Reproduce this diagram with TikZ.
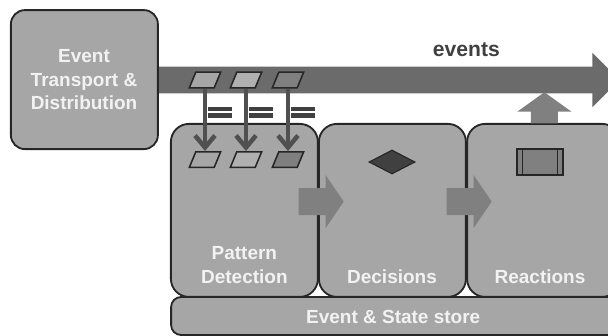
\documentclass[tikz,border=0pt]{standalone}
\usepackage{fontspec}
\setmainfont{Liberation Sans}
\usepackage{tikz}
\usetikzlibrary{arrows.meta, shapes.geometric, shapes.arrows}
\definecolor{boxfill}{HTML}{A6A6A6}
\definecolor{boxline}{HTML}{262626}
\definecolor{busfill}{HTML}{6B6B6B}
\definecolor{flowfill}{HTML}{808080}
\definecolor{linkline}{HTML}{505050}
\definecolor{darkmark}{HTML}{404040}
\definecolor{labelwhite}{HTML}{F2F2F2}
\tikzset{
    block/.style={draw=boxline, fill=boxfill, line width=1.3pt, rounded corners=0.45cm, inner sep=0pt},
    blocklabel/.style={text=labelwhite, font=\fontsize{13.5}{16.7}\selectfont\bfseries, align=center, inner sep=0pt},
    flow/.style={single arrow, fill=flowfill, inner xsep=0pt, inner ysep=0.33cm, single arrow head indent=0pt},
    eventcard/.style={trapezium, trapezium left angle=67.5, trapezium right angle=112.5,
        draw=boxline, line width=1.1pt, text width=0.4cm, text height=0.33cm, inner sep=0.03cm},
    linkarrow/.style={draw=linkline, line width=3.2pt, -{Straight Barb[length=0.3cm, width=0.5cm]}},
    equalbar/.style={fill=darkmark, minimum width=0.6cm, minimum height=0.11cm, inner sep=0pt}
}

\begin{document}
\begin{tikzpicture}
    \clip (0, 0) rectangle (15.2, 8.4);
    % Bus of events, then the blocks
    \node[flow, fill=busfill, single arrow head extend=0.35cm, minimum height=11.55cm] (bus) at (9.55, 6.4) {};
    \node[block, rounded corners=0.35cm, minimum width=3.675cm, minimum height=3.475cm] (transport) at (2.11, 6.41) {};
    \node[block, minimum width=3.675cm, minimum height=4.325cm] (pattern) at (6.11, 3.14) {};
    \node[block, minimum width=3.675cm, minimum height=4.325cm] (decisions) at (9.81, 3.14) {};
    \node[block, minimum width=3.825cm, minimum height=4.325cm] (reactions) at (13.59, 3.14) {};
    \node[block, rounded corners=0.25cm, minimum width=11.225cm, minimum height=0.95cm] (store) at (9.89, 0.5) {};
    % Labels
    \node[blocklabel] (transportlabel) at (2.1, 6.4) {Event\\Transport \&\\Distribution};
    \node[blocklabel] (patternlabel) at (6.11, 1.77) {Pattern\\Detection};
    \node[blocklabel] (decisionslabel) at (9.8, 1.47) {Decisions};
    \node[blocklabel] (reactionslabel) at (13.5, 1.47) {Reactions};
    \node[blocklabel] (storelabel) at (9.83, 0.48) {Event \& State store};
    \node[blocklabel, text=darkmark, font=\fontsize{15}{18}\selectfont\bfseries] (eventslabel) at (11.66, 7.15) {events};
    % Block arrows
    \node[flow, single arrow head extend=0.325cm, single arrow tip angle=111.6, minimum height=1.125cm] (toDecisions) at (7.915, 3.36) {};
    \node[flow, single arrow head extend=0.325cm, single arrow tip angle=111.6, minimum height=1.125cm] (toReactions) at (11.615, 3.36) {};
    \node[flow, inner xsep=0.33cm, inner ysep=0pt, shape border rotate=90, single arrow head extend=0.3375cm, single arrow tip angle=108.8, minimum height=0.775cm] (toBus) at (13.61, 5.585) {};
    % Event cards on the bus and in the detection block
    \foreach \name/\x/\topfill/\lowfill in {a/5.125/A6A6A6/A6A6A6, b/6.15/B0B0B0/B0B0B0, c/7.2/7F7F7F/7F7F7F} {
        \definecolor{topcard}{HTML}{\topfill}
        \definecolor{lowcard}{HTML}{\lowfill}
        \node[eventcard, fill=topcard] (top\name) at (\x, 6.4) {};
        \node[eventcard, fill=lowcard] (low\name) at (\x, 4.41) {};
        \draw[linkarrow] (top\name.south) -- (low\name.north);
        \node[equalbar, anchor=west] (bar\name) at (\x+0.06, 5.67) {};
        \node[equalbar, anchor=west] (rab\name) at (\x+0.06, 5.51) {};
    }
    % Decision and reaction symbols
    \node[diamond, aspect=1.9, draw=boxline, fill=darkmark, line width=0.8pt, minimum width=1.15cm, minimum height=0.6cm, inner sep=0pt] (choice) at (9.8, 4.35) {};
    \node[draw=boxline, fill=flowfill, line width=1.1pt, minimum width=1.15cm, minimum height=0.65cm, inner sep=0pt] (action) at (13.5, 4.35) {};
    \draw[boxline, line width=0.8pt] ([xshift=0.15cm]action.north west) -- ([xshift=0.15cm]action.south west);
    \draw[boxline, line width=0.8pt] ([xshift=-0.15cm]action.north east) -- ([xshift=-0.15cm]action.south east);
\end{tikzpicture}
\end{document}
